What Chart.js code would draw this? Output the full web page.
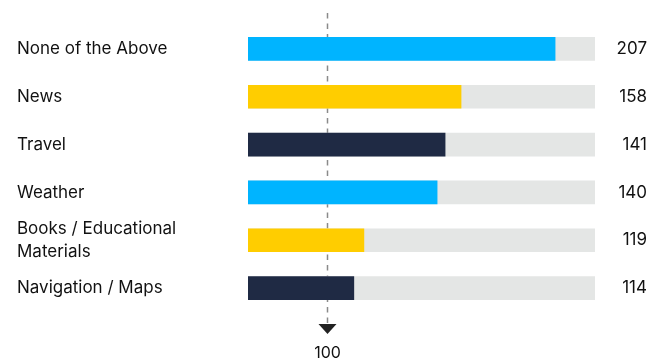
<!DOCTYPE html>
<html lang="en">
<head>
    <meta charset="UTF-8">
    <title>Category Index</title>
    <script src="https://cdn.jsdelivr.net/npm/chart.js"></script>
    <style>
        html, body { margin: 0; padding: 0; background: #ffffff; }
        .wrap { width: 660px; height: 362px; position: relative; }
    </style>
</head>
<body>
    <div class="wrap">
        <canvas id="indexChart"></canvas>
    </div>

    <script>
        // data
        const categories = ["None of the Above", "News", "Travel", "Weather", ["Books / Educational", "Materials"], "Navigation / Maps"];
        const barValues = [88.5, 61.4, 56.8, 54.5, 33.4, 30.5];
        const indexLabels = ["207", "158", "141", "140", "119", "114"];
        const trackValues = [100, 100, 100, 100, 100, 100];
        const benchmarkValue = 22.8;
        const benchmarkLabel = "100";

        const barColors = ["#00b4ff", "#ffcd00", "#1f2a44", "#00b4ff", "#ffcd00", "#1f2a44"];
        const labelFont = { family: "Inter, Lato, sans-serif", size: 17, lineHeight: 1.35 };

        // dashed benchmark line (behind the bars) with arrow and label
        const benchmarkPlugin = {
            id: "benchmark",
            beforeDatasetsDraw(chart) {
                const ctx = chart.ctx;
                const x = Math.round(chart.scales.x.getPixelForValue(benchmarkValue)) + 0.5;
                ctx.save();
                ctx.strokeStyle = "#8a8a8a";
                ctx.lineWidth = 1.5;
                ctx.setLineDash([5.5, 5]);
                ctx.beginPath();
                ctx.moveTo(x, 13);
                ctx.lineTo(x, 323);
                ctx.stroke();
                ctx.setLineDash([]);
                ctx.fillStyle = "#222222";
                ctx.beginPath();
                ctx.moveTo(x - 9, 324);
                ctx.lineTo(x + 9, 324);
                ctx.lineTo(x, 334);
                ctx.closePath();
                ctx.fill();
                ctx.fillStyle = "#111111";
                ctx.font = "16px " + labelFont.family;
                ctx.textAlign = "center";
                ctx.textBaseline = "middle";
                ctx.fillText(benchmarkLabel, x, 353);
                ctx.restore();
            }
        };

        new Chart(document.getElementById("indexChart"), {
            type: "bar",
            data: {
                labels: categories,
                datasets: [
                    {
                        data: barValues,
                        backgroundColor: barColors,
                        barThickness: 23,
                        grouped: false,
                        order: 1
                    },
                    {
                        data: trackValues,
                        backgroundColor: "#e4e6e5",
                        barThickness: 23,
                        grouped: false,
                        order: 2
                    }
                ]
            },
            options: {
                indexAxis: "y",
                responsive: true,
                maintainAspectRatio: false,
                animation: false,
                layout: { padding: { left: 17, right: 13, top: 25, bottom: 50 } },
                plugins: {
                    legend: { display: false },
                    tooltip: { enabled: false }
                },
                scales: {
                    x: {
                        min: 0,
                        max: 100,
                        display: false
                    },
                    y: {
                        grid: { display: false },
                        border: { display: false },
                        ticks: {
                            color: "#111111",
                            font: labelFont,
                            crossAlign: "far",
                            autoSkip: false,
                            padding: 0
                        },
                        afterFit(scale) { scale.width = 231; }
                    },
                    y2: {
                        position: "right",
                        type: "category",
                        labels: indexLabels,
                        grid: { display: false },
                        border: { display: false },
                        ticks: {
                            color: "#111111",
                            font: labelFont,
                            crossAlign: "far",
                            autoSkip: false,
                            padding: 0
                        },
                        afterFit(scale) { scale.width = 52; }
                    }
                }
            },
            plugins: [benchmarkPlugin]
        });
    </script>
</body>
</html>
